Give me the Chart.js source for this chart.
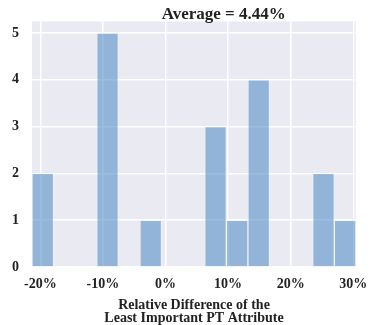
<!DOCTYPE html>
<html>
<head>
<meta charset="utf-8">
<script src="https://cdn.jsdelivr.net/npm/chart.js@4"></script>
<style>
  html, body { margin: 0; padding: 0; background: #fff; }
  #wrap { width: 370px; height: 325px; }
</style>
</head>
<body>
<div id="wrap"><canvas id="myChart" width="370" height="325"></canvas></div>
<script>
// histogram bins (centre of each bin, in %) and counts
var binCenters = [-19.61, -16.16, -12.71, -9.26, -5.81, -2.36, 1.09, 4.54, 7.99, 11.44, 14.89, 18.34, 21.79, 25.24, 28.69];
var counts     = [2, 0, 0, 5, 0, 1, 0, 0, 3, 1, 4, 0, 0, 2, 1];
var xMin = -21.33, xMax = 30.43;
var xTicks = [-20, -10, 0, 10, 20, 30];
var yTicks = [0, 1, 2, 3, 4, 5];
var avgLabel = 'Average = 4.44%';
var xTitle = ['Relative Difference of the', 'Least Important PT Attribute'];

var serif = '"Liberation Serif", "Times New Roman", serif';

var bgPlugin = {
  id: 'bg',
  beforeDraw: function(chart) {
    var a = chart.chartArea, c = chart.ctx;
    c.save();
    c.fillStyle = '#eaeaf2';
    c.fillRect(a.left, a.top, a.right - a.left, a.bottom - a.top);
    c.restore();
  },
  afterDraw: function(chart) {
    var c = chart.ctx;
    c.save();
    c.font = 'bold 17px ' + serif;
    c.fillStyle = '#222';
    c.textAlign = 'center';
    c.textBaseline = 'middle';
    c.fillText(avgLabel, chart.scales.x.getPixelForValue(9.3), 15);
    c.restore();
  }
};

var ctx = document.getElementById('myChart').getContext('2d');
var myChart = new Chart(ctx, {
  type: 'bar',
  data: {
    datasets: [{
      data: binCenters.map(function(x, i) { return {x: x, y: counts[i]}; }),
      backgroundColor: 'rgba(58, 126, 190, 0.5)',
      borderColor: 'rgba(255, 255, 255, 0.35)',
      borderWidth: 1,
      barPercentage: 1,
      categoryPercentage: 1
    }]
  },
  options: {
    responsive: false,
    animation: false,
    layout: { padding: { top: 11, right: 14, left: 0, bottom: 0 } },
    plugins: { legend: { display: false }, tooltip: { enabled: false } },
    scales: {
      x: {
        type: 'linear',
        offset: false,
        min: xMin,
        max: xMax,
        afterBuildTicks: function(s) { s.ticks = xTicks.map(function(v) { return {value: v}; }); },
        afterFit: function(s) { s.height = 58; s.paddingLeft = 0; s.paddingRight = 0; },
        grid: { color: '#ffffff', lineWidth: 1.5, drawTicks: false, offset: false },
        border: { display: false },
        ticks: {
          padding: 9,
          color: '#222',
          font: { family: serif, size: 14, weight: 'bold' },
          maxRotation: 0,
          callback: function(v) { return v + '%'; }
        },
        title: {
          display: true,
          text: xTitle,
          color: '#222',
          padding: { top: 0, bottom: 0 },
          font: { family: serif, size: 14, weight: 'bold', lineHeight: 0.95 }
        }
      },
      y: {
        min: 0,
        max: 5.25,
        afterBuildTicks: function(s) { s.ticks = yTicks.map(function(v) { return {value: v}; }); },
        afterFit: function(s) { s.width = 32; },
        grid: { color: '#ffffff', lineWidth: 1.5, drawTicks: false },
        border: { display: false },
        ticks: {
          padding: 13,
          color: '#222',
          font: { family: serif, size: 14, weight: 'bold' }
        }
      }
    }
  },
  plugins: [bgPlugin]
});
</script>
</body>
</html>
